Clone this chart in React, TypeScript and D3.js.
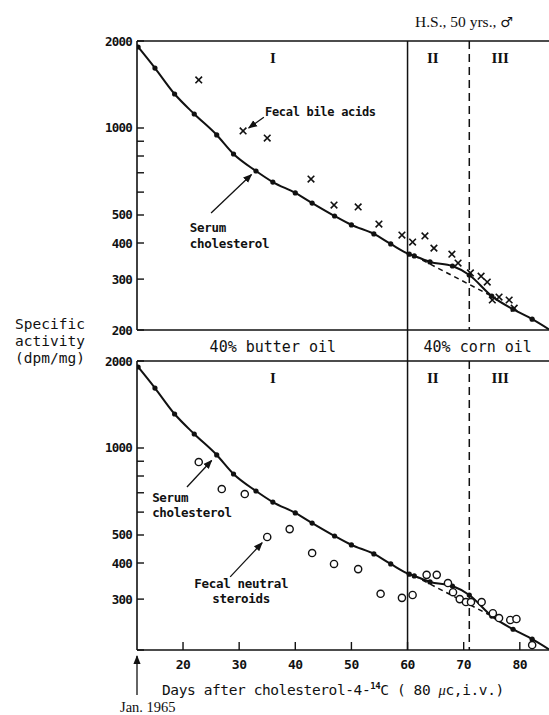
import * as d3 from "d3";

// serum cholesterol (same curve in each)
const serumDays = [12, 15, 18.5, 22, 26, 29, 33, 36, 40, 43, 47, 50, 54, 57, 60.3, 61.2, 64, 68, 71, 75, 78.8, 82.2];
const serumValues = [1907, 1612, 1311, 1118, 946, 813, 710, 650, 596, 550, 496, 462, 430, 397, 366, 361, 344, 333, 310, 262, 236, 218];
// where the drawn curve leaves the frame
const serumEndDay = 85.2;
const serumEndValue = 201;
// extrapolated (dashed) phase I slope across phase II
const dashDays = [61.2, 75];
const dashValues = [361, 262];

const bileDays = [22.8, 30.7, 35, 42.8, 46.9, 51.2, 54.9, 59, 60.9, 63.1, 64.7, 67.9, 69, 71.2, 73.1, 74.2, 75.1, 76.3, 78.1, 79];
const bileValues = [1466, 977, 923, 666, 541, 533, 465, 426, 403, 423, 384, 366, 341, 315, 307, 293, 254, 260, 254, 238];

const neutralDays = [22.8, 26.9, 31, 35, 39, 43, 46.9, 51.2, 55.2, 59, 60.9, 63.4, 65.2, 67.2, 68.1, 69.3, 70.4, 71.3, 73.2, 75.2, 76.3, 78.3, 79.4, 82.2];
const neutralValues = [894, 721, 693, 492, 524, 433, 397, 381, 313, 303, 310, 364, 364, 341, 317, 300, 293, 293, 293, 268, 258, 254, 256, 208];

const yTicks = [2000, 1000, 900, 800, 700, 600, 500, 400, 300, 200];
const yLabelsTop = [2000, 1000, 500, 400, 300, 200];
const yLabelsBottom = [2000, 1000, 500, 400, 300];
const xTicks = [20, 30, 40, 50, 60, 70, 80];
const dietChangeDay = 60;
const phaseIIIDay = 71;
const phaseLabels = [
  { day: 36, text: "I" },
  { day: 64.5, text: "II" },
  { day: 76.5, text: "III" },
];
const dietLabels = [
  { day: 36, text: "40% butter oil" },
  { day: 72.5, text: "40% corn oil" },
];
const yTitle = ["Specific", "activity", "(dpm/mg)"];

const W = 549;
const H = 715;
const left = 137;
const right = 549;
const topPanel = { top: 41, bottom: 330 };
const botPanel = { top: 361, bottom: 650 };

const ink = "#111";
const mono = "'DejaVu Sans Mono', monospace";
const serif = "'Liberation Serif', serif";

const x = d3.scaleLinear().domain([11.8, 85.2]).range([left, right]);

type Pt = { d: number; v: number };
const zip = (ds: number[], vs: number[]): Pt[] => ds.map((d, i) => ({ d, v: vs[i] }));

function Panel({
  y0,
  y1,
  id,
  labels,
  xAxis,
  children,
}: {
  y0: number;
  y1: number;
  id: string;
  labels: number[];
  xAxis: boolean;
  children: (y: d3.ScaleLogarithmic<number, number>) => React.ReactNode;
}) {
  const y = d3.scaleLog().domain([200, 2000]).range([y1, y0]);
  const serum = zip(serumDays, serumValues);
  const curvePts = [...serum, { d: serumEndDay, v: serumEndValue }];
  const line = d3
    .line<Pt>()
    .x((p) => x(p.d))
    .y((p) => y(p.v))
    .curve(d3.curveMonotoneX);
  const dash = zip(dashDays, dashValues);

  return (
    <g>
      <defs>
        <clipPath id={id}>
          <rect x={left} y={y0} width={right - left} height={y1 - y0} />
        </clipPath>
      </defs>
      {/* frame */}
      <line x1={left} x2={right} y1={y0} y2={y0} stroke={ink} strokeWidth={1.4} />
      <line x1={left} x2={right} y1={y1} y2={y1} stroke={ink} strokeWidth={1.6} />
      <line x1={left} x2={left} y1={y0} y2={y1} stroke={ink} strokeWidth={1.6} />
      {/* y ticks inside */}
      {yTicks.map((t) => (
        <line key={t} x1={left} x2={left + 7} y1={y(t)} y2={y(t)} stroke={ink} strokeWidth={1.4} />
      ))}
      {labels.map((t) => (
        <text
          key={t}
          x={left - 5}
          y={y(t) + 4.5}
          textAnchor="end"
          fontFamily={mono}
          fontWeight="bold"
          fontSize={12.5}
          letterSpacing={-0.8}
          fill={ink}
        >
          {t}
        </text>
      ))}
      {xAxis &&
        xTicks.map((t) => (
          <line key={t} x1={x(t)} x2={x(t)} y1={y1} y2={y1 - 8} stroke={ink} strokeWidth={1.4} />
        ))}
      {/* phase dividers */}
      <line x1={x(phaseIIIDay)} x2={x(phaseIIIDay)} y1={y0} y2={y1} stroke={ink} strokeWidth={1.5} strokeDasharray="8 5" />
      {phaseLabels.map((p) => (
        <text key={p.text} x={x(p.day)} y={y0 + 22} textAnchor="middle" fontFamily={serif} fontWeight="bold" fontSize={15} fill={ink}>
          {p.text}
        </text>
      ))}
      <g clipPath={`url(#${id})`}>
        <path d={line(curvePts) ?? ""} fill="none" stroke={ink} strokeWidth={2} />
        <path d={line.curve(d3.curveLinear)(dash) ?? ""} fill="none" stroke={ink} strokeWidth={1.5} strokeDasharray="5 4" />
        {serum.map((p, i) => (
          <circle key={i} cx={x(p.d)} cy={y(p.v)} r={2.6} fill={ink} />
        ))}
        {children(y)}
      </g>
    </g>
  );
}

function Arrow({ x1, y1, x2, y2 }: { x1: number; y1: number; x2: number; y2: number }) {
  return <line x1={x1} y1={y1} x2={x2} y2={y2} stroke={ink} strokeWidth={1.3} markerEnd="url(#head)" />;
}

export default function App() {
  const bile = zip(bileDays, bileValues);
  const neutral = zip(neutralDays, neutralValues);
  const yT = d3.scaleLog().domain([200, 2000]).range([topPanel.bottom, topPanel.top]);
  const yB = d3.scaleLog().domain([200, 2000]).range([botPanel.bottom, botPanel.top]);

  return (
    <>
      <style>{`body{margin:0;background:#fff}`}</style>
      <svg width={W} height={H} style={{ display: "block", background: "#fff" }}>
        <defs>
          <marker id="head" viewBox="0 0 10 10" refX="9" refY="5" markerWidth="7" markerHeight="7" orient="auto">
            <path d="M0,1L10,5L0,9z" fill={ink} />
          </marker>
        </defs>

        <text x={415} y={27} fontFamily={serif} fontSize={15.5} fill={ink}>
          H.S., 50 yrs., <tspan fontFamily="'DejaVu Sans'" fontSize={14}>♂</tspan>
        </text>

        <Panel y0={topPanel.top} y1={topPanel.bottom} id="clipTop" labels={yLabelsTop} xAxis={false}>
          {(y) =>
            bile.map((p, i) => (
              <path
                key={i}
                transform={`translate(${x(p.d)},${y(p.v)})`}
                d="M-3.3,-3.3L3.3,3.3M-3.3,3.3L3.3,-3.3"
                stroke={ink}
                strokeWidth={1.6}
              />
            ))
          }
        </Panel>

        <Panel y0={botPanel.top} y1={botPanel.bottom} id="clipBot" labels={yLabelsBottom} xAxis={true}>
          {(y) =>
            neutral.map((p, i) => (
              <circle key={i} cx={x(p.d)} cy={y(p.v)} r={3.6} fill="#fff" stroke={ink} strokeWidth={1.4} />
            ))
          }
        </Panel>

        {/* solid diet-change line runs through both panels and the band */}
        <line x1={x(dietChangeDay)} x2={x(dietChangeDay)} y1={topPanel.top} y2={botPanel.bottom} stroke={ink} strokeWidth={1.5} />
        {dietLabels.map((d) => (
          <text key={d.text} x={x(d.day)} y={352} textAnchor="middle" fontFamily={mono} fontSize={15} fill={ink}>
            {d.text}
          </text>
        ))}

        {/* annotations, top panel */}
        <text x={x(34.6)} y={yT(1100)} fontFamily={mono} fontWeight="bold" fontSize={12} letterSpacing={-0.3} fill={ink}>
          Fecal bile acids
        </text>
        <Arrow x1={x(34.4)} y1={yT(1090)} x2={x(31.7)} y2={yT(1000)} />
        <text fontFamily={mono} fontWeight="bold" fontSize={12.5} letterSpacing={-0.3} fill={ink}>
          <tspan x={x(21.2)} y={yT(437)}>Serum</tspan>
          <tspan x={x(21.2)} y={yT(384)}>cholesterol</tspan>
        </text>
        <Arrow x1={x(25)} y1={yT(508)} x2={x(32.2)} y2={yT(690)} />

        {/* annotations, bottom panel */}
        <text fontFamily={mono} fontWeight="bold" fontSize={12.5} letterSpacing={-0.3} fill={ink}>
          <tspan x={x(14.5)} y={yB(650)}>Serum</tspan>
          <tspan x={x(14.5)} y={yB(577)}>cholesterol</tspan>
        </text>
        <Arrow x1={x(20.7)} y1={yB(733)} x2={x(25.1)} y2={yB(905)} />
        <text fontFamily={mono} fontWeight="bold" fontSize={12.5} letterSpacing={-0.3} fill={ink}>
          <tspan x={x(22)} y={yB(328)}>Fecal neutral</tspan>
          <tspan x={x(25.2)} y={yB(291)}>steroids</tspan>
        </text>
        <Arrow x1={x(28.4)} y1={yB(358)} x2={x(34.1)} y2={yB(470)} />

        {/* y title, one text per line */}
        {yTitle.map((s, i) => (
          <text key={s} x={50} y={329 + i * 17} fontFamily={mono} fontSize={14.5} textAnchor="middle" fill={ink}>
            {s}
          </text>
        ))}

        {/* x tick labels + title */}
        {xTicks.map((t) => (
          <text key={t} x={x(t)} y={669} textAnchor="middle" fontFamily={mono} fontWeight="bold" fontSize={13} letterSpacing={-0.5} fill={ink}>
            {t}
          </text>
        ))}
        <text x={162} y={695} fontFamily={mono} fontSize={14.5} letterSpacing={-0.4} fill={ink}>
          Days after cholesterol-4-
          <tspan fontSize={9} fontWeight="bold" dy={-6}>14</tspan>
          <tspan dy={6}>C ( 80 </tspan>
          <tspan fontFamily={serif} fontStyle="italic">μ</tspan>
          <tspan>c,i.v.)</tspan>
        </text>

        {/* Jan. 1965 marker */}
        <Arrow x1={x(11.8)} y1={695} x2={x(11.8)} y2={656} />
        <text x={120} y={712} fontFamily={serif} fontSize={14.5} fill={ink}>
          Jan. 1965
        </text>
      </svg>
    </>
  );
}
